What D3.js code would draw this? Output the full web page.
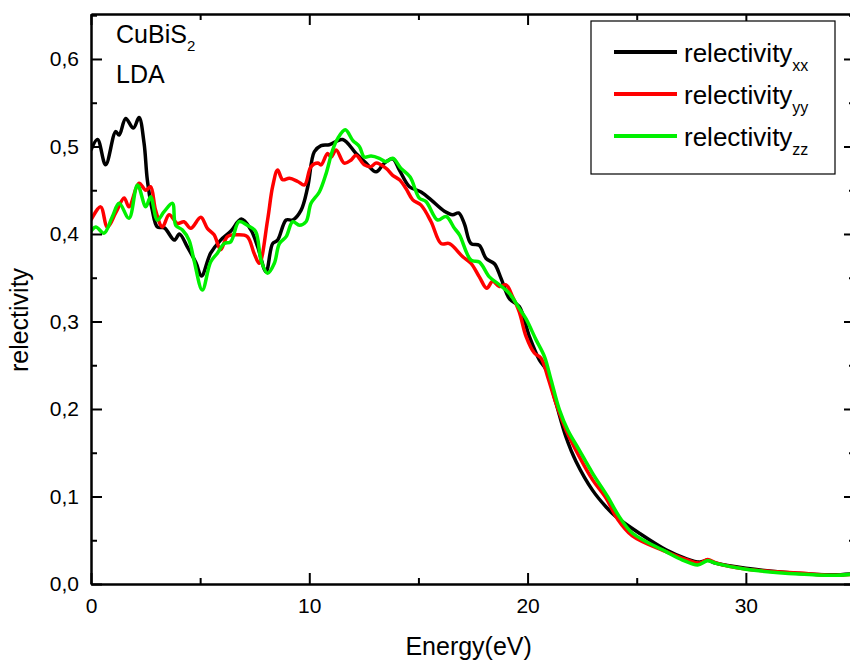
<!DOCTYPE html>
<html lang="en">
<head>
<meta charset="UTF-8">
<title>CuBiS2 reflectivity</title>
<script src="https://d3js.org/d3.v7.min.js"></script>
<style>
  body { margin: 0; background: #fff; }
  svg { display: block; font-family: "Liberation Sans", Arial, sans-serif; }
  .axis path, .axis line { stroke: #000; stroke-width: 2; }
  .axis text { font-size: 21px; fill: #000; }
</style>
</head>
<body>
<div id="chart"></div>
<script>
// data: energy (eV) and reflectivity for each component
const xxEnergy = [0,0.3,0.67,1.13,1.29,1.59,1.94,2.2,2.43,2.58,2.81,3.04,3.36,3.82,4.05,4.42,4.81,5.06,5.48,5.94,6.4,6.89,7.32,7.64,8.02,8.32,8.55,8.94,9.24,9.62,9.93,10.23,10.54,10.92,11.53,12.14,12.6,13.06,13.44,13.82,14.13,14.59,15.12,15.58,16.19,16.57,16.84,17.1,17.41,17.79,18.1,18.48,18.79,19.17,19.62,20.08,20.54,20.85,21.3,21.76,22.22,22.98,23.6,24.05,25.12,26.34,27.26,27.87,28.25,28.6,30,32.45,34,35];
const xxValues = [0.496,0.508,0.479,0.517,0.513,0.532,0.521,0.533,0.504,0.462,0.427,0.408,0.407,0.393,0.400,0.385,0.367,0.352,0.378,0.393,0.403,0.417,0.405,0.385,0.357,0.389,0.393,0.416,0.416,0.427,0.454,0.494,0.501,0.502,0.508,0.492,0.481,0.471,0.481,0.486,0.473,0.454,0.448,0.439,0.426,0.422,0.424,0.412,0.389,0.387,0.372,0.366,0.349,0.326,0.317,0.283,0.256,0.245,0.207,0.168,0.140,0.107,0.088,0.077,0.058,0.039,0.029,0.025,0.027,0.024,0.018,0.012,0.0105,0.012];

const yyEnergy = [0,0.44,0.75,1.13,1.52,1.74,2.2,2.51,2.73,2.96,3.27,3.58,3.96,4.26,4.57,5.03,5.33,5.64,5.94,6.25,6.71,7.16,7.47,7.71,8.09,8.32,8.55,8.78,9.09,9.47,9.78,10.08,10.39,10.54,10.84,11,11.23,11.6,11.92,12.14,12.52,12.83,13.06,13.52,13.82,14.13,14.43,14.74,15.12,15.58,16.04,16.42,17.03,17.41,17.79,18.13,18.4,18.71,19.01,19.32,19.62,19.93,20.31,20.62,20.92,21.3,21.76,22.37,22.98,23.6,24.1,24.8,26.34,27.26,27.87,28.25,28.63,30,32.45,34,35];
const yyValues = [0.416,0.431,0.408,0.424,0.441,0.431,0.458,0.450,0.454,0.427,0.408,0.422,0.412,0.414,0.4065,0.419,0.4065,0.399,0.382,0.397,0.399,0.397,0.378,0.3665,0.416,0.454,0.473,0.462,0.4636,0.460,0.456,0.477,0.481,0.479,0.492,0.488,0.496,0.481,0.4846,0.490,0.479,0.477,0.481,0.475,0.467,0.462,0.452,0.439,0.433,0.414,0.389,0.389,0.374,0.3665,0.351,0.338,0.346,0.340,0.342,0.328,0.311,0.283,0.264,0.258,0.237,0.2065,0.176,0.1455,0.119,0.098,0.075,0.055,0.037,0.028,0.024,0.028,0.024,0.017,0.0125,0.010,0.0115];

const zzEnergy = [0,0.22,0.6,0.98,1.29,1.74,2.13,2.51,2.73,3.04,3.35,3.73,3.88,4.19,4.49,4.72,5.1,5.48,5.79,6.1,6.4,6.78,7.16,7.54,7.79,8.09,8.4,8.63,8.94,9.24,9.55,9.85,10.08,10.46,10.77,11.07,11.3,11.65,11.99,12.3,12.52,12.83,13.21,13.52,13.82,14.2,14.62,15.04,15.35,15.88,16.27,16.65,16.88,17.41,17.79,18.25,18.71,19.17,19.62,19.93,20.39,20.77,21.08,21.46,21.84,22.37,22.98,23.67,24.2,24.81,26.34,27.1,27.79,28.25,28.63,30,32.45,33.98,35];
const zzValues = [0.403,0.408,0.401,0.420,0.435,0.418,0.456,0.431,0.4426,0.416,0.4255,0.435,0.410,0.4046,0.393,0.370,0.336,0.368,0.378,0.389,0.391,0.414,0.410,0.403,0.370,0.355,0.3665,0.389,0.397,0.414,0.410,0.414,0.435,0.448,0.469,0.496,0.509,0.519,0.507,0.4998,0.488,0.489,0.4865,0.4826,0.4865,0.475,0.465,0.441,0.437,0.416,0.420,0.4065,0.399,0.370,0.368,0.351,0.342,0.332,0.315,0.303,0.279,0.260,0.233,0.199,0.176,0.153,0.1265,0.0998,0.077,0.058,0.037,0.0274,0.0217,0.0266,0.0236,0.0168,0.0114,0.0099,0.0115];

const seriesSubs = ["xx", "yy", "zz"];
const seriesColors = ["#000000", "#ff0000", "#00f000"];
const xTicks = [0, 10, 20, 30];
const xMinorTicks = [5, 15, 25, 35];
const yTicks = [0, 0.1, 0.2, 0.3, 0.4, 0.5, 0.6];
const yMinorTicks = [0.05, 0.15, 0.25, 0.35, 0.45, 0.55, 0.65];

const width = 850, height = 662;
const margin = { top: 14, right: -5, bottom: 78, left: 91 };
const innerW = width - margin.left - margin.right;
const innerH = height - margin.top - margin.bottom;

const svg = d3.select("#chart").append("svg")
    .attr("width", width)
    .attr("height", height);

const g = svg.append("g").attr("transform", `translate(${margin.left},${margin.top})`);

const x = d3.scaleLinear().domain([0, 35]).range([0, innerW]);
const y = d3.scaleLinear().domain([0, 0.6514]).range([innerH, 0]);

const comma = d3.formatLocale({ decimal: ",", thousands: ".", grouping: [3], currency: ["", ""] });
const yFmt = comma.format(".1f");

// clip the curves to the frame
g.append("clipPath").attr("id", "plot-clip")
  .append("rect").attr("width", innerW).attr("height", innerH);

const series = [
    { sub: "xx", energy: xxEnergy, values: xxValues },
    { sub: "yy", energy: yyEnergy, values: yyValues },
    { sub: "zz", energy: zzEnergy, values: zzValues }
];

const line = d3.line()
    .x(d => x(d[0]))
    .y(d => y(d[1]))
    .curve(d3.curveCatmullRom.alpha(0.5));

g.append("g").attr("clip-path", "url(#plot-clip)")
  .selectAll("path")
  .data(series)
  .join("path")
    .attr("fill", "none")
    .attr("stroke", (d, i) => seriesColors[i])
    .attr("stroke-width", 3.5)
    .attr("stroke-linejoin", "round")
    .attr("d", d => line(d3.zip(d.energy, d.values)));

// axes, ticks pointing inward on all four sides
g.append("g").attr("class", "axis")
    .attr("transform", `translate(0,${innerH})`)
    .call(d3.axisBottom(x).tickValues(xTicks).tickSize(-11).tickSizeOuter(0).tickPadding(14));
g.append("g").attr("class", "axis")
    .attr("transform", `translate(0,${innerH})`)
    .call(d3.axisBottom(x).tickValues(xMinorTicks).tickSize(-6).tickSizeOuter(0).tickFormat(""));
g.append("g").attr("class", "axis")
    .call(d3.axisTop(x).tickValues(xTicks).tickSize(-11).tickSizeOuter(0).tickFormat(""));
g.append("g").attr("class", "axis")
    .call(d3.axisTop(x).tickValues(xMinorTicks).tickSize(-6).tickSizeOuter(0).tickFormat(""));

g.append("g").attr("class", "axis")
    .call(d3.axisLeft(y).tickValues(yTicks).tickSize(-11).tickSizeOuter(0).tickPadding(12).tickFormat(yFmt));
g.append("g").attr("class", "axis")
    .call(d3.axisLeft(y).tickValues(yMinorTicks).tickSize(-6).tickSizeOuter(0).tickFormat(""));
g.append("g").attr("class", "axis")
    .attr("transform", `translate(${innerW},0)`)
    .call(d3.axisRight(y).tickValues(yTicks).tickSize(-11).tickSizeOuter(0).tickFormat(""));
g.append("g").attr("class", "axis")
    .attr("transform", `translate(${innerW},0)`)
    .call(d3.axisRight(y).tickValues(yMinorTicks).tickSize(-6).tickSizeOuter(0).tickFormat(""));

// axis titles
svg.append("text")
    .attr("x", margin.left + x(17.3))
    .attr("y", 655)
    .attr("text-anchor", "middle")
    .style("font-size", "25px")
    .text("Energy(eV)");

svg.append("text")
    .attr("transform", "translate(28,320) rotate(-90)")
    .attr("text-anchor", "middle")
    .style("font-size", "25px")
    .text("relectivity");

// material label
const lab = g.append("text").attr("x", 25).attr("y", 29).style("font-size", "25px");
lab.append("tspan").text("CuBiS");
lab.append("tspan").attr("dy", 8).style("font-size", "15px").text("2");
g.append("text").attr("x", 25).attr("y", 69).style("font-size", "25px").text("LDA");

// legend
const legend = svg.append("g").attr("transform", "translate(591,21)");
legend.append("rect")
    .attr("width", 244).attr("height", 153)
    .attr("fill", "#fff").attr("stroke", "#000").attr("stroke-width", 1.2);

const rows = legend.selectAll("g.row")
    .data(seriesSubs)
    .join("g")
    .attr("class", "row")
    .attr("transform", (d, i) => `translate(0,${31 + i * 42})`);

rows.append("line")
    .attr("x1", 23).attr("x2", 86)
    .attr("stroke", (d, i) => seriesColors[i])
    .attr("stroke-width", 4);

const rowText = rows.append("text")
    .attr("x", 93).attr("y", 10)
    .style("font-size", "26px");
rowText.append("tspan").text("relectivity");
rowText.append("tspan").attr("dy", 9).style("font-size", "16px").text(d => d);
</script>
</body>
</html>
